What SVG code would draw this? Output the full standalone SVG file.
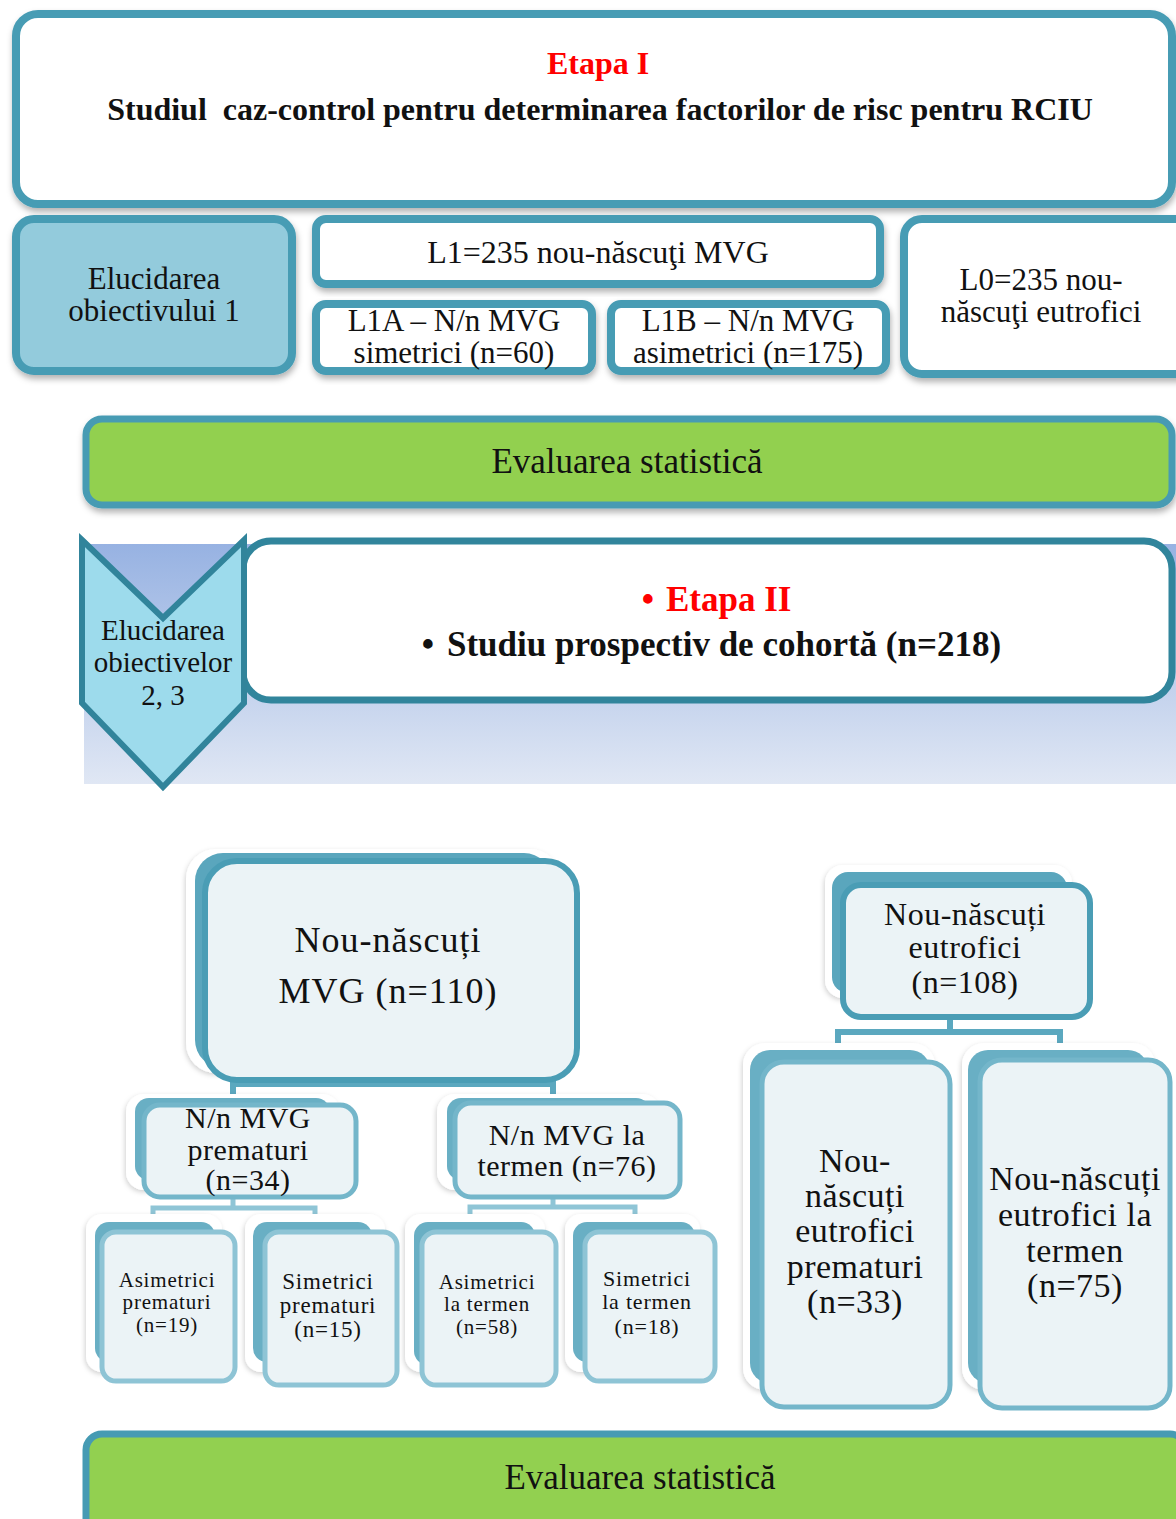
<svg xmlns="http://www.w3.org/2000/svg" width="1176" height="1519" viewBox="0 0 1176 1519">
<style>
  .t { font-family: "Liberation Serif", "Times New Roman", serif; fill: #111; }
  .b { font-weight: bold; }
  .red { fill: #ff0000; }
  .box { stroke: #479cb4; stroke-width: 8; fill: #fff; }
  .green { fill: #92d050; stroke: #469bb3; stroke-width: 7; }
  .glow { fill: #fff; }
  .back1 { fill: #5aa6bd; }
  .back2 { fill: #69afc4; }
  .front1 { fill: #ebf3f6; stroke: #4a9db5; stroke-width: 6; }
  .front2 { fill: #ebf3f6; stroke: #74b6ca; stroke-width: 5; }
  .front3 { fill: #ebf3f6; stroke: #8ec4d5; stroke-width: 5; }
  .conn1 { fill: none; stroke: #5ba8bf; stroke-width: 6; }
  .conn2 { fill: none; stroke: #8fc5d6; stroke-width: 5; }
</style>
<defs>
  <filter id="sh" x="-10%" y="-10%" width="120%" height="130%">
    <feDropShadow dx="1" dy="4" stdDeviation="3" flood-color="#000" flood-opacity="0.3"/>
  </filter>
  <filter id="gl" x="-15%" y="-15%" width="130%" height="130%">
    <feDropShadow dx="-1" dy="2" stdDeviation="2.5" flood-color="#000" flood-opacity="0.18"/>
  </filter>
  <linearGradient id="bg2" x1="0" y1="0" x2="0" y2="1">
    <stop offset="0" stop-color="#97b2e2"/>
    <stop offset="1" stop-color="#e0e7f4"/>
  </linearGradient>
</defs>
<rect x="0" y="0" width="1176" height="1519" fill="#fff"/>

<!-- Etapa I -->
<g id="etapa1">
  <rect class="box" x="16" y="14" width="1156" height="190" rx="22" filter="url(#sh)"/>
  <text class="t b red" x="598" y="74" font-size="32" text-anchor="middle">Etapa I</text>
  <text class="t b" x="600" y="120" font-size="32" text-anchor="middle" xml:space="preserve">Studiul  caz-control pentru determinarea factorilor de risc pentru RCIU</text>
</g>

<g id="obiectiv1">
  <rect class="box" x="16" y="219" width="276" height="152" rx="18" style="fill:#93cbdc" filter="url(#sh)"/>
  <text class="t" x="154" y="289" font-size="31" text-anchor="middle">Elucidarea</text>
  <text class="t" x="154" y="321" font-size="31" text-anchor="middle">obiectivului 1</text>
</g>

<g id="L1">
  <rect class="box" x="316" y="219" width="564" height="65" rx="10" filter="url(#sh)"/>
  <text class="t" x="598" y="263" font-size="32" text-anchor="middle">L1=235 nou-născuţi MVG</text>
</g>

<g id="L1A">
  <rect class="box" x="316" y="304" width="276" height="67" rx="10" filter="url(#sh)"/>
  <text class="t" x="454" y="331" font-size="31" text-anchor="middle">L1A – N/n MVG</text>
  <text class="t" x="454" y="363" font-size="31" text-anchor="middle">simetrici (n=60)</text>
</g>

<g id="L1B">
  <rect class="box" x="611" y="304" width="275" height="67" rx="10" filter="url(#sh)"/>
  <text class="t" x="748" y="331" font-size="31" text-anchor="middle">L1B – N/n MVG</text>
  <text class="t" x="748" y="363" font-size="31" text-anchor="middle">asimetrici (n=175)</text>
</g>

<g id="L0">
  <rect class="box" x="904" y="219" width="290" height="155" rx="18" filter="url(#sh)"/>
  <text class="t" x="1041" y="290" font-size="31" text-anchor="middle">L0=235 nou-</text>
  <text class="t" x="1041" y="322" font-size="31" text-anchor="middle">născuţi eutrofici</text>
</g>

<g id="eval1">
  <rect class="green" x="86" y="419" width="1086" height="86" rx="16" filter="url(#sh)"/>
  <text class="t" x="627" y="473" font-size="35" text-anchor="middle">Evaluarea statistică</text>
</g>

<!-- Etapa II -->
<g id="etapa2">
  <rect x="84" y="544" width="1092" height="240" fill="url(#bg2)"/>
  <rect x="243" y="541" width="929" height="159" rx="28" fill="#fff" stroke="#31859c" stroke-width="7"/>
  <text class="t b red" x="648" y="611" font-size="35" text-anchor="middle">•</text>
  <text class="t b red" x="666" y="611" font-size="35">Etapa II</text>
  <text class="t b" x="428" y="656" font-size="35" text-anchor="middle">•</text>
  <text class="t b" x="447" y="656" font-size="35">Studiu prospectiv de cohortă (n=218)</text>
</g>

<g id="obiectiv23">
  <polygon points="82,540 163,618 244,540 244,703 163,787 82,703" fill="#9ddbec" stroke="#31849b" stroke-width="6"/>
  <text class="t" x="163" y="640" font-size="29" text-anchor="middle">Elucidarea</text>
  <text class="t" x="163" y="672" font-size="29" text-anchor="middle">obiectivelor</text>
  <text class="t" x="163" y="705" font-size="29" text-anchor="middle">2, 3</text>
</g>

<!-- connectors -->
<g id="connectors">
  <path class="conn1" d="M233,1080 V1084 H553 V1080 M233,1084 V1096 M553,1084 V1096"/>
  <path class="conn2" d="M233,1197 V1208 M153,1220 V1208 H315 V1220"/>
  <path class="conn2" d="M553,1197 V1207 M470,1220 V1207 H635 V1220"/>
  <path class="conn1" d="M950,1017 V1032 M838,1046 V1032 H1060 V1046"/>
</g>

<!-- tree nodes -->
<g id="mvg110">
  <rect class="glow" x="186" y="849" width="374" height="224" rx="30" filter="url(#gl)"/>
  <rect class="back1" x="195" y="853" width="357" height="215" rx="28"/>
  <rect class="front1" x="205" y="861" width="372" height="219" rx="32"/>
  <text class="t" x="388" y="952" font-size="36" letter-spacing="1" text-anchor="middle">Nou-născuți</text>
  <text class="t" x="388" y="1003" font-size="36" letter-spacing="1" text-anchor="middle">MVG (n=110)</text>
</g>

<g id="mvg-prematuri">
  <rect class="glow" x="126" y="1094" width="214" height="96" rx="18" filter="url(#gl)"/>
  <rect class="back2" x="135" y="1098" width="195" height="82" rx="14"/>
  <rect class="front2" x="144" y="1105" width="212" height="92" rx="16"/>
  <text class="t" x="248" y="1128" font-size="30" letter-spacing="0.5" text-anchor="middle">N/n MVG</text>
  <text class="t" x="248" y="1160" font-size="30" letter-spacing="0.5" text-anchor="middle">prematuri</text>
  <text class="t" x="248" y="1190" font-size="30" letter-spacing="0.5" text-anchor="middle">(n=34)</text>
</g>

<g id="mvg-termen">
  <rect class="glow" x="437" y="1094" width="223" height="96" rx="18" filter="url(#gl)"/>
  <rect class="back2" x="447" y="1098" width="203" height="82" rx="14"/>
  <rect class="front2" x="455" y="1103" width="225" height="94" rx="16"/>
  <text class="t" x="567" y="1145" font-size="30" letter-spacing="0.5" text-anchor="middle">N/n MVG la</text>
  <text class="t" x="567" y="1176" font-size="30" letter-spacing="0.5" text-anchor="middle">termen (n=76)</text>
</g>

<g id="asim-prematuri">
  <rect class="glow" x="86" y="1214" width="136" height="158" rx="16" filter="url(#gl)"/>
  <rect class="back2" x="95" y="1222" width="120" height="140" rx="14"/>
  <rect class="front3" x="102" y="1232" width="133" height="149" rx="14"/>
  <text class="t" x="167" y="1287" font-size="21" letter-spacing="0.8" text-anchor="middle">Asimetrici</text>
  <text class="t" x="167" y="1309" font-size="21" letter-spacing="0.8" text-anchor="middle">prematuri</text>
  <text class="t" x="167" y="1332" font-size="21" letter-spacing="0.8" text-anchor="middle">(n=19)</text>
</g>

<g id="sim-prematuri">
  <rect class="glow" x="245" y="1214" width="140" height="158" rx="16" filter="url(#gl)"/>
  <rect class="back2" x="253" y="1222" width="119" height="140" rx="14"/>
  <rect class="front3" x="265" y="1232" width="132" height="153" rx="14"/>
  <text class="t" x="328" y="1289" font-size="23" letter-spacing="0.8" text-anchor="middle">Simetrici</text>
  <text class="t" x="328" y="1313" font-size="23" letter-spacing="0.8" text-anchor="middle">prematuri</text>
  <text class="t" x="328" y="1337" font-size="23" letter-spacing="0.8" text-anchor="middle">(n=15)</text>
</g>

<g id="asim-termen">
  <rect class="glow" x="405" y="1214" width="140" height="158" rx="16" filter="url(#gl)"/>
  <rect class="back2" x="414" y="1222" width="121" height="143" rx="14"/>
  <rect class="front3" x="422" y="1232" width="134" height="153" rx="14"/>
  <text class="t" x="487" y="1289" font-size="21" letter-spacing="0.8" text-anchor="middle">Asimetrici</text>
  <text class="t" x="487" y="1311" font-size="21" letter-spacing="0.8" text-anchor="middle">la termen</text>
  <text class="t" x="487" y="1334" font-size="21" letter-spacing="0.8" text-anchor="middle">(n=58)</text>
</g>

<g id="sim-termen">
  <rect class="glow" x="565" y="1214" width="135" height="158" rx="16" filter="url(#gl)"/>
  <rect class="back2" x="573" y="1222" width="122" height="140" rx="14"/>
  <rect class="front3" x="585" y="1232" width="130" height="149" rx="14"/>
  <text class="t" x="647" y="1286" font-size="22" letter-spacing="0.8" text-anchor="middle">Simetrici</text>
  <text class="t" x="647" y="1309" font-size="22" letter-spacing="0.8" text-anchor="middle">la termen</text>
  <text class="t" x="647" y="1334" font-size="22" letter-spacing="0.8" text-anchor="middle">(n=18)</text>
</g>

<g id="eutrofici108">
  <rect class="glow" x="825" y="865" width="247" height="133" rx="18" filter="url(#gl)"/>
  <rect class="back1" x="832" y="872" width="235" height="121" rx="16"/>
  <rect class="front1" x="843" y="885" width="247" height="132" rx="18"/>
  <text class="t" x="965" y="925" font-size="32" letter-spacing="0.5" text-anchor="middle">Nou-născuți</text>
  <text class="t" x="965" y="958" font-size="32" letter-spacing="0.5" text-anchor="middle">eutrofici</text>
  <text class="t" x="965" y="993" font-size="32" letter-spacing="0.5" text-anchor="middle">(n=108)</text>
</g>

<g id="eutrofici-prematuri">
  <rect class="glow" x="743" y="1043" width="192" height="347" rx="22" filter="url(#gl)"/>
  <rect class="back2" x="750" y="1050" width="180" height="333" rx="20"/>
  <rect class="front2" x="762" y="1062" width="188" height="345" rx="22"/>
  <text class="t" x="855" y="1172" font-size="34" letter-spacing="0.5" text-anchor="middle">Nou-</text>
  <text class="t" x="855" y="1207" font-size="34" letter-spacing="0.5" text-anchor="middle">născuți</text>
  <text class="t" x="855" y="1242" font-size="34" letter-spacing="0.5" text-anchor="middle">eutrofici</text>
  <text class="t" x="855" y="1278" font-size="34" letter-spacing="0.5" text-anchor="middle">prematuri</text>
  <text class="t" x="855" y="1313" font-size="34" letter-spacing="0.5" text-anchor="middle">(n=33)</text>
</g>

<g id="eutrofici-termen">
  <rect class="glow" x="962" y="1043" width="193" height="347" rx="22" filter="url(#gl)"/>
  <rect class="back2" x="968" y="1050" width="180" height="333" rx="20"/>
  <rect class="front2" x="980" y="1060" width="190" height="348" rx="22"/>
  <text class="t" x="1075" y="1190" font-size="34" letter-spacing="0.5" text-anchor="middle">Nou-născuți</text>
  <text class="t" x="1075" y="1226" font-size="34" letter-spacing="0.5" text-anchor="middle">eutrofici la</text>
  <text class="t" x="1075" y="1262" font-size="34" letter-spacing="0.5" text-anchor="middle">termen</text>
  <text class="t" x="1075" y="1297" font-size="34" letter-spacing="0.5" text-anchor="middle">(n=75)</text>
</g>

<g id="eval2">
  <rect class="green" x="86" y="1434" width="1100" height="100" rx="16"/>
  <text class="t" x="640" y="1489" font-size="35" text-anchor="middle">Evaluarea statistică</text>
</g>
</svg>
